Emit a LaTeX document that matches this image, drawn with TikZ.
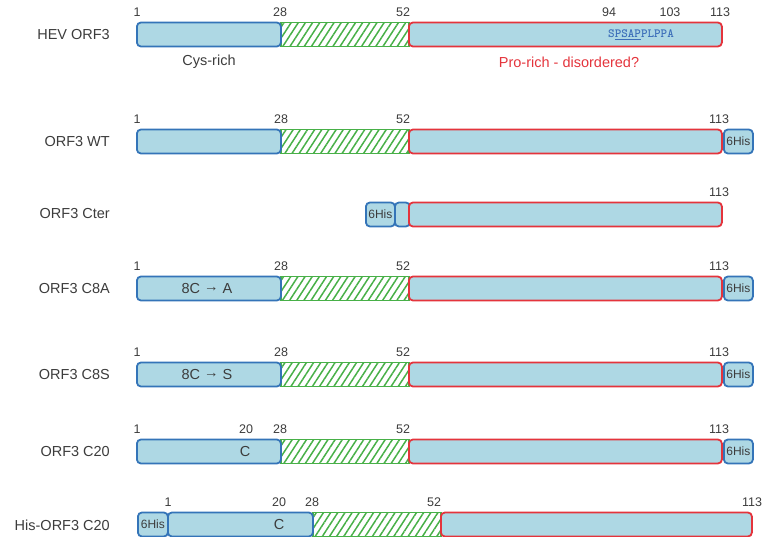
\documentclass[tikz,border=0pt]{standalone}
\usepackage{fontspec}
\setmainfont{Liberation Sans}
\usetikzlibrary{patterns.meta}
\definecolor{boxfill}{RGB}{174,216,228}
\definecolor{bordblue}{RGB}{52,116,184}
\definecolor{bordred}{RGB}{228,52,60}
\definecolor{hatchgreen}{RGB}{72,176,72}
\definecolor{txtgray}{RGB}{60,60,60}
\definecolor{seqblue}{RGB}{60,110,185}
\newcommand{\myarrow}{\raisebox{1.8pt}{→}}
\tikzset{
  seg/.style={rectangle, minimum height=24pt, inner sep=0pt, anchor=west, line width=1.8pt},
  blueseg/.style={seg, draw=bordblue, fill=boxfill, rounded corners=4pt},
  redseg/.style={seg, draw=bordred, fill=boxfill, rounded corners=4pt},
  greenseg/.style={seg, draw=hatchgreen, fill=white, pattern={Lines[angle=57,distance=6pt,line width=1.5pt]}, pattern color=hatchgreen},
  hisseg/.style={blueseg, font=\fontsize{12}{13}\selectfont, text=txtgray},
  num/.style={font=\fontsize{12.5}{13}\selectfont, text=txtgray, inner sep=0pt},
  rowlab/.style={anchor=east, font=\fontsize{14.5}{16}\selectfont, text=txtgray, inner sep=0pt},
  inlab/.style={font=\fontsize{14.5}{16}\selectfont, text=txtgray, inner sep=0pt},
}
\begin{document}
\begin{tikzpicture}[x=1pt,y=-1pt]
\useasboundingbox (0,0) rectangle (762,537);

% ---- Row 1: HEV ORF3 ----
\node[rowlab] (l1) at (110,35) {HEV ORF3};
\node[greenseg, minimum width=128pt] (g1) at (280,34.5) {};
\node[blueseg, minimum width=144pt] (b1) at (136,34.5) {};
\node[redseg, minimum width=313pt] (r1) at (408,34.5) {};
\node[font=\ttfamily\bfseries\fontsize{12.5}{13}\selectfont, text=seqblue, inner sep=0pt] (seq1) at (641,35) {S\underline{PSAP}PLPPA};
\node[num] (n1a) at (137,12.5) {1};
\node[num] (n1b) at (280,12.5) {28};
\node[num] (n1c) at (403,12.5) {52};
\node[num] (n1d) at (609,12.5) {94};
\node[num] (n1e) at (670,12.5) {103};
\node[num] (n1f) at (720,12.5) {113};
\node[inlab] (cys) at (209,62) {Cys-rich};
\node[inlab, text=bordred] (pro) at (569,62) {Pro-rich - disordered?};

% ---- Row 2: ORF3 WT ----
\node[rowlab] (l2) at (110,142) {ORF3 WT};
\node[greenseg, minimum width=128pt] (g2) at (280,141.5) {};
\node[blueseg, minimum width=144pt] (b2) at (136,141.5) {};
\node[redseg, minimum width=313pt] (r2) at (408,141.5) {};
\node[hisseg, minimum width=29pt] (h2) at (723,141.5) {6His};
\node[num] (n2a) at (137,119.5) {1};
\node[num] (n2b) at (281,119.5) {28};
\node[num] (n2c) at (403,119.5) {52};
\node[num] (n2d) at (719,119.5) {113};

% ---- Row 3: ORF3 Cter ----
\node[rowlab] (l3) at (110,214) {ORF3 Cter};
\node[hisseg, minimum width=29pt] (h3) at (365,214.5) {6His};
\node[blueseg, minimum width=15pt] (b3) at (394,214.5) {};
\node[redseg, minimum width=313pt] (r3) at (408,214.5) {};
\node[num] (n3a) at (719,192.5) {113};

% ---- Row 4: ORF3 C8A ----
\node[rowlab] (l4) at (110,289) {ORF3 C8A};
\node[greenseg, minimum width=128pt] (g4) at (280,288.5) {};
\node[blueseg, minimum width=144pt] (b4) at (136,288.5) {};
\node[redseg, minimum width=313pt] (r4) at (408,288.5) {};
\node[hisseg, minimum width=29pt] (h4) at (723,288.5) {6His};
\node[inlab] (m4) at (207,288.5) {8C \myarrow{} A};
\node[num] (n4a) at (137,266.5) {1};
\node[num] (n4b) at (281,266.5) {28};
\node[num] (n4c) at (403,266.5) {52};
\node[num] (n4d) at (719,266.5) {113};

% ---- Row 5: ORF3 C8S ----
\node[rowlab] (l5) at (110,375) {ORF3 C8S};
\node[greenseg, minimum width=128pt] (g5) at (280,374.5) {};
\node[blueseg, minimum width=144pt] (b5) at (136,374.5) {};
\node[redseg, minimum width=313pt] (r5) at (408,374.5) {};
\node[hisseg, minimum width=29pt] (h5) at (723,374.5) {6His};
\node[inlab] (m5) at (207,374.5) {8C \myarrow{} S};
\node[num] (n5a) at (137,352.5) {1};
\node[num] (n5b) at (281,352.5) {28};
\node[num] (n5c) at (403,352.5) {52};
\node[num] (n5d) at (719,352.5) {113};

% ---- Row 6: ORF3 C20 ----
\node[rowlab] (l6) at (110,452) {ORF3 C20};
\node[greenseg, minimum width=128pt] (g6) at (280,451.5) {};
\node[blueseg, minimum width=144pt] (b6) at (136,451.5) {};
\node[redseg, minimum width=313pt] (r6) at (408,451.5) {};
\node[hisseg, minimum width=29pt] (h6) at (723,451.5) {6His};
\node[inlab] (m6) at (245,452) {C};
\node[num] (n6a) at (137,429.5) {1};
\node[num] (n6b) at (246,429.5) {20};
\node[num] (n6c) at (280,429.5) {28};
\node[num] (n6d) at (403,429.5) {52};
\node[num] (n6e) at (719,429.5) {113};

% ---- Row 7: His-ORF3 C20 ----
\node[rowlab] (l7) at (110,525) {His-ORF3 C20};
\node[hisseg, minimum width=30pt] (h7) at (137,524.5) {6His};
\node[greenseg, minimum width=128pt] (g7) at (312,524.5) {};
\node[blueseg, minimum width=145pt] (b7) at (167,524.5) {};
\node[redseg, minimum width=311pt] (r7) at (440,524.5) {};
\node[inlab] (m7) at (279,525) {C};
\node[num] (n7a) at (168,502.5) {1};
\node[num] (n7b) at (279,502.5) {20};
\node[num] (n7c) at (312,502.5) {28};
\node[num] (n7d) at (434,502.5) {52};
\node[num] (n7e) at (752,502.5) {113};
\end{tikzpicture}
\end{document}
